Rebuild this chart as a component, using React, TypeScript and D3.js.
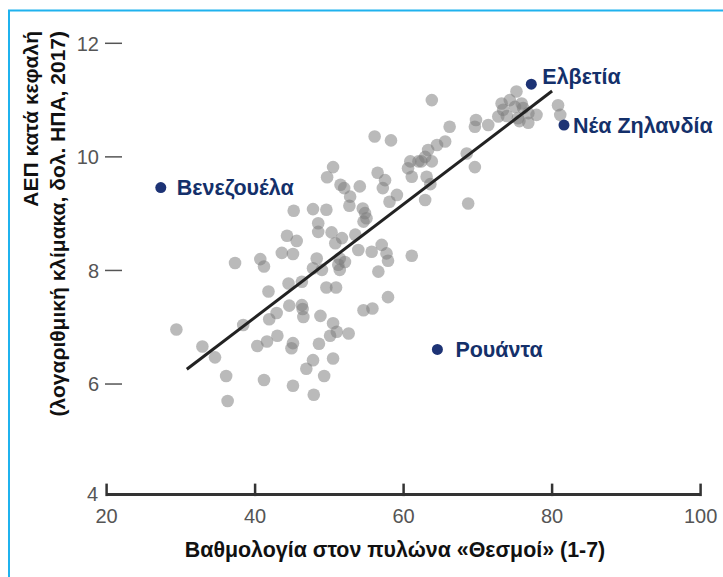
import React from "react";
import * as d3 from "d3";

// Scatter data: institutions pillar score (x) vs log GDP per capita (y)
const scoreX: number[] = [
  29.4, 32.9, 34.6, 36.1, 36.3, 38.4, 41.2, 40.3, 41.6, 43.0, 41.9, 42.9, 44.6, 46.3, 46.4, 46.5,
  48.8, 45.1, 44.9, 45.1, 46.9, 47.8, 47.9, 48.6, 49.3, 50.5, 50.5, 51.0, 50.1, 52.6, 41.8, 54.6,
  55.8, 57.9, 49.6, 50.9, 44.5, 46.3, 47.8, 49.0, 48.3, 51.4, 52.1, 51.2, 51.4, 43.6, 45.1, 44.3,
  45.6, 48.5, 50.3, 51.7, 50.8, 53.5, 53.9, 55.7, 57.05, 57.7, 57.9, 61.1, 56.6, 37.3, 40.7, 41.2,
  56.1, 58.3, 50.5, 49.7, 51.5, 52.0, 54.1, 52.8, 52.7, 54.5, 54.8, 55.0, 54.6, 56.5, 57.5, 57.2,
  59.1, 58.1, 60.9, 60.6, 61.1, 45.2, 47.8, 49.6, 48.5, 63.8, 75.2, 73.2, 74.3, 75.0, 73.4, 75.9,
  76.1, 72.75, 73.9, 75.4, 76.8, 77.9, 76.8, 75.6, 80.8, 81.1, 69.75, 69.6, 71.4, 66.2, 65.6, 64.5,
  63.3, 62.9, 63.8, 62.0, 63.1, 63.6, 68.5, 69.6, 62.9, 68.7, 62.4,
];
const gdpY: number[] = [
  6.96, 6.66, 6.47, 6.14, 5.70, 7.04, 6.07, 6.67, 6.75, 6.85, 7.14, 7.25, 7.38, 7.39, 7.32, 7.18,
  7.20, 6.72, 6.63, 5.97, 6.27, 6.42, 5.81, 6.71, 6.14, 6.45, 7.07, 6.92, 6.85, 6.89, 7.63, 7.30,
  7.33, 7.53, 7.70, 7.70, 7.77, 7.80, 8.04, 8.01, 8.21, 8.21, 8.15, 8.10, 8.01, 8.31, 8.29, 8.61,
  8.52, 8.68, 8.67, 8.57, 8.48, 8.63, 8.36, 8.33, 8.45, 8.30, 8.17, 8.26, 7.98, 8.13, 8.20, 8.07,
  10.36, 10.29, 9.82, 9.64, 9.51, 9.45, 9.48, 9.30, 9.14, 9.09, 9.01, 8.92, 8.86, 9.72, 9.59, 9.45,
  9.33, 9.21, 9.92, 9.80, 9.65, 9.05, 9.08, 9.07, 8.83, 11.0, 11.15, 10.94, 11.0, 10.88, 10.83, 10.94,
  10.86, 10.71, 10.72, 10.68, 10.77, 10.74, 10.60, 10.63, 10.91, 10.74, 10.65, 10.53, 10.56, 10.53, 10.27, 10.21,
  10.12, 10.0, 9.92, 9.92, 9.65, 9.52, 10.06, 9.82, 9.24, 9.18, 9.92,
];

const labelNames: string[] = ["Βενεζουέλα", "Ελβετία", "Νέα Ζηλανδία", "Ρουάντα"];
const labelX: number[] = [27.3, 77.2, 81.6, 64.55];
const labelY: number[] = [9.46, 11.28, 10.56, 6.61];

const fitX: number[] = [30.8, 80.0];
const fitY: number[] = [6.26, 11.16];

const xTicks: number[] = [20, 40, 60, 80, 100];
const yTicks: number[] = [12, 10, 8, 6];

const W = 723;
const H = 577;
const FONT = "'Liberation Sans', Arial, Helvetica, sans-serif";

export default function App() {
  const x = d3.scaleLinear().domain([20, 100]).range([106.6, 700.6]);
  const y = d3.scaleLinear().domain([4, 12]).range([497.6, 43.3]);
  const axisY = y(4) - 3;
  const navy = "#1d3375";
  const line = d3
    .line<number>()
    .x((_, i) => x(fitX[i]))
    .y((_, i) => y(fitY[i]));

  // label offsets relative to dot
  const lblDx = [16, 11, 9, 18];
  const lblDy = [0, -8, 0, 0];

  return (
    <svg
      width={W}
      height={H}
      style={{ position: "absolute", left: 0, top: 0, background: "#fff" }}
      fontFamily={FONT}
    >
      {/* frame lines */}
      <line x1={9} x2={9} y1={10} y2={H} stroke="#1fb2ee" strokeWidth={2} />
      <line x1={8} x2={W} y1={10.5} y2={10.5} stroke="#1fb2ee" strokeWidth={2} />

      {/* y tick labels and dashes */}
      {yTicks.map((t) => (
        <g key={t}>
          <text
            x={99}
            y={y(t)}
            dy="0.36em"
            textAnchor="end"
            fontSize={20}
            fill="#555"
          >
            {t}
          </text>
          <line x1={105} x2={122} y1={y(t)} y2={y(t)} stroke="#555" strokeWidth={1.5} />
        </g>
      ))}
      <text x={98} y={axisY} dy="0.3em" textAnchor="end" fontSize={20} fill="#555">
        4
      </text>

      {/* x axis */}
      <line x1={x(20)} x2={x(100)} y1={axisY} y2={axisY} stroke="#333" strokeWidth={3} />
      {xTicks.map((t) => (
        <g key={t}>
          <line x1={x(t)} x2={x(t)} y1={axisY + 1.5} y2={axisY - 11} stroke="#333" strokeWidth={2.5} />
          <text x={x(t)} y={axisY + 28} textAnchor="middle" fontSize={20} fill="#555">
            {t}
          </text>
        </g>
      ))}

      {/* points */}
      {scoreX.map((v, i) => (
        <circle key={i} cx={x(v)} cy={y(gdpY[i])} r={6.3} fill="#7a7a7a" fillOpacity={0.52} />
      ))}

      {/* regression line */}
      <path d={line(fitX) || ""} stroke="#222" strokeWidth={3} fill="none" />

      {/* labelled countries */}
      {labelNames.map((n, i) => (
        <g key={n}>
          <circle cx={x(labelX[i])} cy={y(labelY[i])} r={5.5} fill={navy} />
          <text
            x={x(labelX[i]) + lblDx[i]}
            y={y(labelY[i]) + lblDy[i]}
            dy="0.36em"
            fontSize={21.5}
            fontWeight="bold"
            fill="#14306a"
          >
            {n}
          </text>
        </g>
      ))}

      {/* axis titles */}
      <text x={395} y={557} textAnchor="middle" fontSize={21.4} fontWeight="bold" fill="#111">
        Βαθμολογία στον πυλώνα «Θεσμοί» (1-7)
      </text>
      <g transform="translate(38,31) rotate(-90)">
        <text x={0} y={0} textAnchor="end" fontSize={21} fontWeight="bold" fill="#111">
          ΑΕΠ κατά κεφαλή
        </text>
      </g>
      <g transform="translate(65,31) rotate(-90)">
        <text x={0} y={0} textAnchor="end" fontSize={21} fontWeight="bold" fill="#111">
          (λογαριθμική κλίμακα, δολ. ΗΠΑ, 2017)
        </text>
      </g>
    </svg>
  );
}
